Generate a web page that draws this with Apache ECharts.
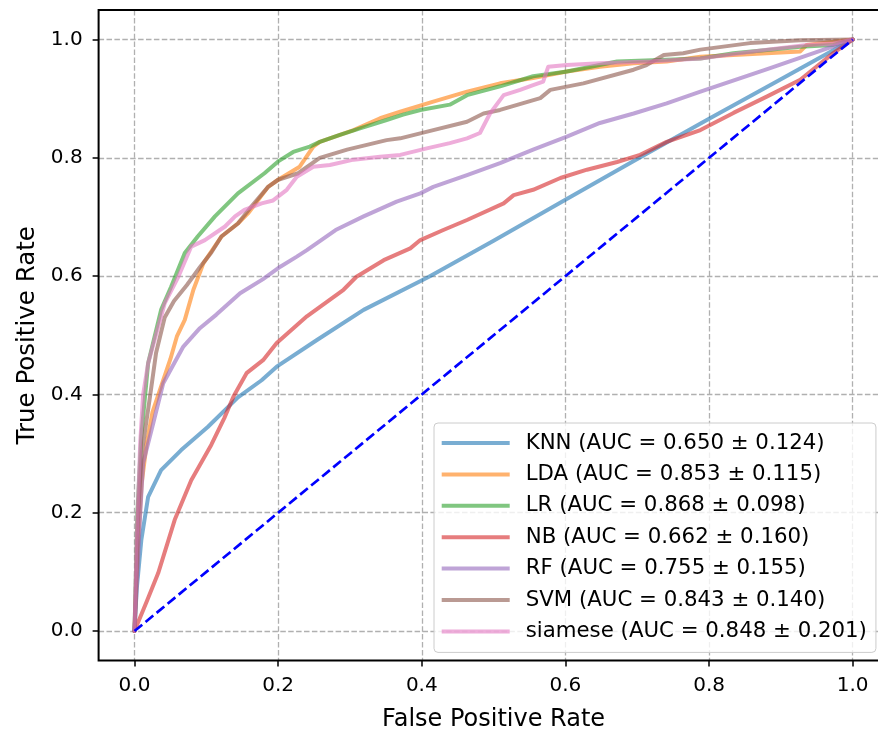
<!DOCTYPE html>
<html>
<head>
<meta charset="utf-8">
<script src="https://cdn.jsdelivr.net/npm/echarts@6/dist/echarts.min.js"></script>
<style>html,body{margin:0;padding:0;background:#fff}#c{width:878px;height:731px}</style>
</head>
<body>
<div id="c"></div>
<script>
// Tick labels
const xTicks = [0, 0.2, 0.4, 0.6, 0.8, 1.0];
const yTicks = [0, 0.2, 0.4, 0.6, 0.8, 1.0];

// Legend labels
const names = [
  'KNN (AUC = 0.650 ± 0.124)',
  'LDA (AUC = 0.853 ± 0.115)',
  'LR (AUC = 0.868 ± 0.098)',
  'NB (AUC = 0.662 ± 0.160)',
  'RF (AUC = 0.755 ± 0.155)',
  'SVM (AUC = 0.843 ± 0.140)',
  'siamese (AUC = 0.848 ± 0.201)'
];

// ROC curves [FPR, TPR]
const KNN = [[0,0],[0.003,0.07],[0.0095,0.154],[0.019,0.227],[0.037,0.272],[0.065,0.306],[0.102,0.345],[0.144,0.395],[0.177,0.424],[0.198,0.447],[0.254,0.492],[0.319,0.543],[0.41,0.599],[0.5,0.66],[0.6,0.729],[0.7,0.798],[0.8,0.866],[0.9,0.933],[1,1]];
const LDA = [[0,0],[0.005,0.15],[0.01,0.25],[0.017,0.317],[0.025,0.37],[0.036,0.41],[0.05,0.46],[0.059,0.498],[0.07,0.526],[0.082,0.577],[0.096,0.622],[0.121,0.667],[0.144,0.689],[0.158,0.706],[0.186,0.751],[0.2,0.763],[0.23,0.785],[0.249,0.819],[0.258,0.827],[0.305,0.847],[0.342,0.867],[0.37,0.878],[0.416,0.895],[0.463,0.912],[0.509,0.926],[0.555,0.935],[0.602,0.946],[0.648,0.954],[0.695,0.96],[0.741,0.963],[0.788,0.971],[0.834,0.974],[0.927,0.98],[0.936,0.991],[1,1]];
const LR = [[0,0],[0.004,0.2],[0.0095,0.33],[0.019,0.453],[0.037,0.543],[0.051,0.582],[0.07,0.639],[0.088,0.667],[0.112,0.701],[0.144,0.74],[0.181,0.774],[0.2,0.794],[0.221,0.81],[0.244,0.819],[0.258,0.827],[0.286,0.839],[0.314,0.85],[0.351,0.864],[0.374,0.873],[0.398,0.881],[0.439,0.89],[0.463,0.906],[0.509,0.921],[0.555,0.938],[0.602,0.946],[0.672,0.963],[0.741,0.966],[0.788,0.968],[0.834,0.977],[0.927,0.988],[0.973,0.991],[1,1]];
const NB = [[0,0],[0.017,0.05],[0.033,0.098],[0.056,0.188],[0.079,0.255],[0.107,0.315],[0.125,0.36],[0.138,0.397],[0.156,0.436],[0.179,0.458],[0.198,0.487],[0.24,0.532],[0.291,0.577],[0.309,0.599],[0.347,0.627],[0.384,0.647],[0.398,0.661],[0.43,0.678],[0.463,0.695],[0.514,0.723],[0.528,0.737],[0.555,0.746],[0.593,0.766],[0.63,0.78],[0.672,0.793],[0.704,0.805],[0.741,0.827],[0.788,0.847],[0.834,0.876],[0.881,0.904],[0.927,0.932],[0.973,0.977],[1,1]];
const RF = [[0,0],[0.004,0.1],[0.008,0.2],[0.012,0.284],[0.026,0.351],[0.04,0.419],[0.068,0.481],[0.091,0.512],[0.114,0.535],[0.147,0.571],[0.179,0.595],[0.203,0.616],[0.226,0.633],[0.24,0.644],[0.28,0.678],[0.319,0.701],[0.365,0.726],[0.398,0.74],[0.416,0.751],[0.463,0.771],[0.509,0.791],[0.555,0.814],[0.602,0.836],[0.648,0.859],[0.695,0.875],[0.741,0.892],[0.788,0.912],[0.881,0.95],[1,1]];
const SVM = [[0,0],[0.005,0.2],[0.01,0.3],[0.022,0.4],[0.03,0.47],[0.042,0.53],[0.055,0.558],[0.073,0.585],[0.091,0.615],[0.107,0.64],[0.121,0.667],[0.144,0.689],[0.163,0.718],[0.186,0.751],[0.2,0.763],[0.228,0.774],[0.258,0.8],[0.296,0.814],[0.351,0.83],[0.37,0.833],[0.416,0.847],[0.463,0.861],[0.486,0.875],[0.509,0.881],[0.565,0.901],[0.579,0.915],[0.625,0.926],[0.695,0.949],[0.713,0.957],[0.737,0.974],[0.764,0.977],[0.788,0.983],[0.857,0.994],[0.927,0.999],[1,1]];
const SIAMESE = [[0,0],[0.003,0.15],[0.008,0.32],[0.012,0.4],[0.019,0.453],[0.042,0.554],[0.061,0.599],[0.079,0.65],[0.098,0.661],[0.126,0.684],[0.14,0.701],[0.153,0.712],[0.177,0.723],[0.193,0.728],[0.212,0.746],[0.226,0.768],[0.249,0.785],[0.272,0.788],[0.305,0.797],[0.342,0.802],[0.37,0.805],[0.407,0.816],[0.439,0.825],[0.463,0.833],[0.481,0.842],[0.495,0.875],[0.514,0.906],[0.537,0.915],[0.555,0.923],[0.569,0.929],[0.576,0.954],[0.602,0.957],[0.648,0.96],[0.718,0.963],[0.788,0.968],[0.881,0.983],[0.936,0.991],[0.973,0.993],[1,1]];
const CHANCE = [[0,0],[1,1]];

const colors = ['rgba(31,119,180,0.6)','rgba(255,127,14,0.6)','rgba(44,160,44,0.6)','rgba(214,39,40,0.6)','rgba(148,103,189,0.6)','rgba(140,86,75,0.6)','rgba(227,119,194,0.6)'];
const curves = [KNN, LDA, LR, NB, RF, SVM, SIAMESE];

const FONT = 'DejaVu Sans';
const X_MIN = -0.05, X_MAX = 1.05, Y_MIN = -0.05, Y_MAX = 1.05;
const G = {left: 98.6, top: 10, width: 790, height: 650.6};

const chart = echarts.init(document.getElementById('c'), null, {renderer: 'canvas'});

const series = curves.map((d, i) => ({
  name: names[i],
  type: 'line',
  data: d,
  showSymbol: false,
  symbol: 'none',
  smooth: false,
  animation: false,
  color: colors[i],
  lineStyle: {width: 4, color: colors[i], cap: 'round', join: 'round'},
  itemStyle: {color: colors[i]},
  z: 2 + i
}));
series.push({
  name: 'chance',
  type: 'line',
  data: CHANCE,
  symbol: 'none',
  animation: false,
  lineStyle: {width: 2.7, color: '#0000ff', type: [10, 4.3]},
  z: 20
});

const gridLine = {show: true, lineStyle: {color: '#b0b0b0', width: 1.3, type: [5.5, 2.4]}};

chart.setOption({
  animation: false,
  backgroundColor: '#fff',
  grid: {left: G.left, top: G.top, width: G.width, height: G.height, show: false, containLabel: false, outerBoundsMode: 'none'},
  xAxis: {
    type: 'value', min: X_MIN, max: X_MAX, position: 'bottom',
    name: 'False Positive Rate', nameLocation: 'middle', nameGap: 47,
    nameTextStyle: {fontFamily: FONT, fontSize: 24, color: '#000'},
    axisLine: {show: false, onZero: false},
    axisTick: {show: true, customValues: xTicks, length: 6, lineStyle: {color: '#000', width: 1.5}},
    axisLabel: {customValues: xTicks, formatter: v => v.toFixed(1), fontFamily: FONT, fontSize: 20, color: '#000', margin: 15},
    splitLine: gridLine
  },
  yAxis: {
    type: 'value', min: Y_MIN, max: Y_MAX, position: 'left',
    name: 'True Positive Rate', nameLocation: 'middle', nameGap: 55,
    nameTextStyle: {fontFamily: FONT, fontSize: 24.5, color: '#000'},
    axisLine: {show: false, onZero: false},
    axisTick: {show: true, customValues: yTicks, length: 6, lineStyle: {color: '#000', width: 1.5}},
    axisLabel: {customValues: yTicks, formatter: v => v.toFixed(1), fontFamily: FONT, fontSize: 20, color: '#000', margin: 16},
    splitLine: gridLine
  },
  graphic: [{
    type: 'rect', silent: true, z: 50,
    shape: {x: G.left, y: G.top, width: G.width, height: G.height},
    style: {fill: 'none', stroke: '#000', lineWidth: 2}
  }],
  legend: {
    data: names,
    orient: 'vertical',
    left: 434, top: 423,
    padding: [8, 9, 9, 7.7],
    itemWidth: 68, itemHeight: 4, itemGap: 7.4,
    icon: 'rect',
    backgroundColor: 'rgba(255,255,255,0.8)',
    borderColor: '#cccccc', borderWidth: 1, borderRadius: 4,
    textStyle: {fontFamily: FONT, fontSize: 21.3, color: '#000', lineHeight: 24, padding: [0, 0, 0, 11]}
  },
  series: series
});
</script>
</body>
</html>
